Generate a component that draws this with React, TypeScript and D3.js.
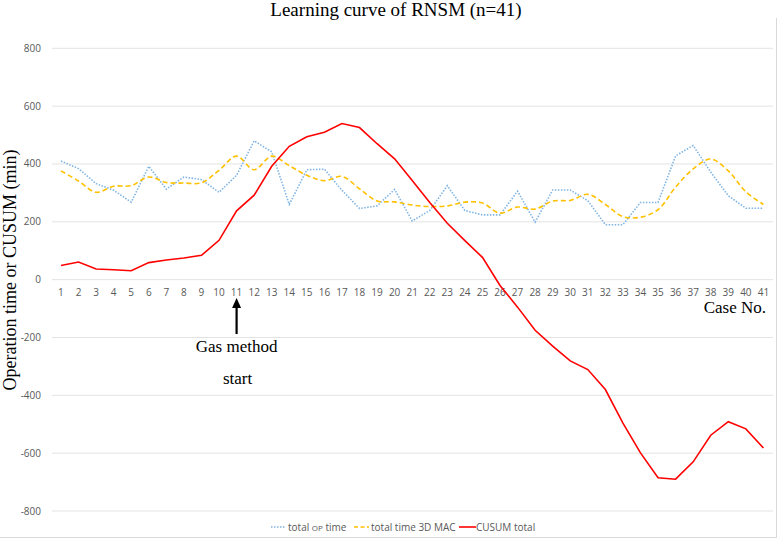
import React from "react";
import * as d3 from "d3";

const cases: number[] = Array.from({ length: 41 }, (_, i) => i + 1);

const totalOpTime: number[] = [
  410, 384, 332, 309, 268, 392, 313, 355, 346, 302,
  361, 480, 442, 260, 380, 382, 309, 246, 255, 312,
  203, 239, 325, 239, 224, 224, 306, 199, 310, 310,
  273, 190, 190, 267, 267, 428, 464, 372, 290, 247, 247,
];

const totalTime3DMAC: number[] = [
  376, 341, 302, 323, 325, 355, 336, 334, 335, 378,
  427, 380, 427, 394, 361, 342, 357, 314, 272, 269,
  258, 253, 255, 268, 265, 230, 251, 244, 272, 274,
  295, 260, 218, 216, 242, 320, 383, 417, 376, 304, 260,
];

const cusumTotal: number[] = [
  49, 61, 37, 34, 31, 59, 68, 75, 84, 136,
  238, 292, 392, 461, 494, 510, 540, 526, 470, 418,
  343, 267, 195, 135, 77, -20, -95, -175, -230, -281,
  -311, -380, -496, -599, -685, -690, -630, -538, -491, -516, -582,
];

const yTicks: number[] = [800, 600, 400, 200, 0, -200, -400, -600, -800];

const W = 779;
const H = 539;

export default function App() {
  const x = d3
    .scaleBand<number>()
    .domain(cases)
    .range([52.2, 772.2])
    .padding(0);
  const cx = (c: number) => (x(c) as number) + x.bandwidth() / 2;
  const y = d3.scaleLinear().domain([-800, 800]).range([511, 48.3]);

  const lineStraight = d3
    .line<number>()
    .x((_, i) => cx(cases[i]))
    .y((d) => y(d));
  const lineSmooth = d3
    .line<number>()
    .x((_, i) => cx(cases[i]))
    .y((d) => y(d))
    .curve(d3.curveCatmullRom.alpha(0.5));

  const tickFont = "'Open Sans', 'Liberation Sans', sans-serif";
  const serif = "'Liberation Serif', 'DejaVu Serif', serif";
  const arrowX = cx(11);

  return (
    <svg
      width={W}
      height={H}
      style={{ position: "absolute", left: 0, top: 0, background: "#fff" }}
    >
      <rect x={0} y={0} width={W} height={H} fill="#fff" />
      {/* chart border */}
      <line x1={776.5} x2={776.5} y1={18} y2={538} stroke="#d9d9d9" strokeWidth={1} />
      <line x1={0} x2={777} y1={537.5} y2={537.5} stroke="#d9d9d9" strokeWidth={1} />

      {/* title */}
      <text
        x={396}
        y={16}
        textAnchor="middle"
        fontFamily={serif}
        fontSize={19}
        fill="#000"
      >
        Learning curve of RNSM (n=41)
      </text>

      {/* gridlines */}
      {yTicks.map((t) => (
        <line
          key={"g" + t}
          x1={52}
          x2={773}
          y1={y(t)}
          y2={y(t)}
          stroke="#e3e3e3"
          strokeWidth={1}
        />
      ))}

      {/* y tick labels */}
      {yTicks.map((t) => (
        <text
          key={"yl" + t}
          x={41}
          y={y(t)}
          dy="0.35em"
          textAnchor="end"
          fontFamily={tickFont}
          fontSize={10}
          fill="#595959"
        >
          {t}
        </text>
      ))}

      {/* x tick labels */}
      {cases.map((c) => (
        <text
          key={"xl" + c}
          x={cx(c)}
          y={292.5}
          dy="0.35em"
          textAnchor="middle"
          fontFamily={tickFont}
          fontSize={10}
          fill="#595959"
        >
          {c}
        </text>
      ))}

      {/* axis titles */}
      <text
        x={766}
        y={313}
        textAnchor="end"
        fontFamily={serif}
        fontSize={17}
        fill="#000"
      >
        Case No.
      </text>
      <text
        transform={`translate(16, 270) rotate(-90)`}
        textAnchor="middle"
        fontFamily={serif}
        fontSize={18}
        fill="#000"
      >
        Operation time or CUSUM (min)
      </text>

      {/* series */}
      <path
        d={lineStraight(totalOpTime) || ""}
        fill="none"
        stroke="#7fb4e3"
        strokeWidth={1.6}
        strokeDasharray="1.5 1.5"
      />
      <path
        d={lineSmooth(totalTime3DMAC) || ""}
        fill="none"
        stroke="#ffc000"
        strokeWidth={1.6}
        strokeDasharray="5 3"
      />
      <path
        d={lineStraight(cusumTotal) || ""}
        fill="none"
        stroke="#ff0000"
        strokeWidth={1.6}
      />

      {/* annotation */}
      <line
        x1={arrowX}
        x2={arrowX}
        y1={334}
        y2={306}
        stroke="#000"
        strokeWidth={2.2}
      />
      <path
        d={`M${arrowX - 4.5},${308} L${arrowX},${298} L${arrowX + 4.5},${308} Z`}
        fill="#000"
      />
      <text
        x={arrowX}
        y={352}
        textAnchor="middle"
        fontFamily={serif}
        fontSize={17}
        fill="#000"
      >
        Gas method
      </text>
      <text
        x={arrowX + 1}
        y={384}
        textAnchor="middle"
        fontFamily={serif}
        fontSize={17}
        fill="#000"
      >
        start
      </text>

      {/* legend */}
      <g fontFamily={tickFont} fontSize={10} fill="#595959">
        <line x1={271} x2={286} y1={527} y2={527} stroke="#7fb4e3" strokeWidth={1.6} strokeDasharray="1.5 1.5" />
        <text x={288} y={527} dy="0.35em">
          total <tspan fontSize={8}>OP</tspan> time
        </text>
        <line x1={354} x2={369} y1={527} y2={527} stroke="#ffc000" strokeWidth={1.6} strokeDasharray="4 2.5" />
        <text x={371} y={527} dy="0.35em">
          total time 3D MAC
        </text>
        <line x1={459} x2={476} y1={527} y2={527} stroke="#ff0000" strokeWidth={1.6} />
        <text x={476} y={527} dy="0.35em">
          CUSUM total
        </text>
      </g>
    </svg>
  );
}
